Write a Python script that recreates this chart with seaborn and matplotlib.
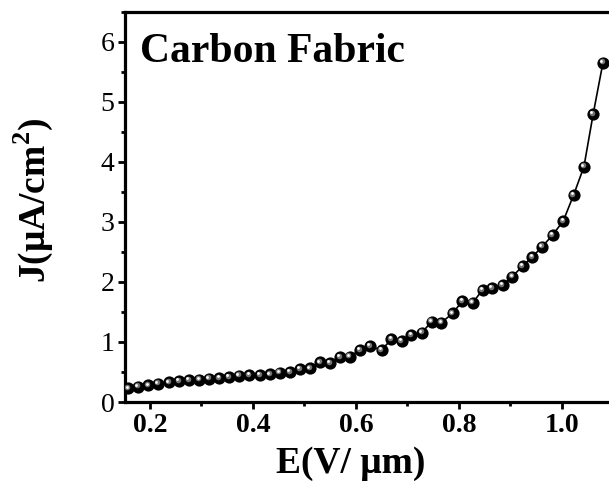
import numpy as np
import pandas as pd
import seaborn as sns
import matplotlib.pyplot as plt
from matplotlib.ticker import MultipleLocator, FormatStrFormatter
from matplotlib.transforms import offset_copy

# field (V/um) and current density (uA/cm2)
E = [0.158, 0.177, 0.197, 0.216, 0.237, 0.257, 0.276, 0.296, 0.315, 0.335,
     0.354, 0.373, 0.393, 0.414, 0.433, 0.452, 0.472, 0.491, 0.511, 0.530,
     0.550, 0.569, 0.588, 0.608, 0.627, 0.650, 0.669, 0.689, 0.708, 0.728,
     0.747, 0.766, 0.788, 0.807, 0.827, 0.846, 0.865, 0.885, 0.904, 0.924,
     0.943, 0.962, 0.982, 1.003, 1.023, 1.043, 1.061, 1.080]
J = [0.228, 0.255, 0.278, 0.305, 0.328, 0.345, 0.362, 0.372, 0.388, 0.400,
     0.417, 0.438, 0.450, 0.450, 0.460, 0.490, 0.495, 0.550, 0.560, 0.660,
     0.645, 0.745, 0.755, 0.870, 0.930, 0.867, 1.045, 1.020, 1.117, 1.155,
     1.338, 1.322, 1.478, 1.683, 1.655, 1.867, 1.895, 1.950, 2.090, 2.267,
     2.420, 2.590, 2.780, 3.020, 3.450, 3.920, 4.800, 5.655]
label = "Carbon Fabric"

df = pd.DataFrame({"E": E, "J": J})

sns.set_theme(style="ticks")
plt.rcParams["font.family"] = ["Liberation Serif", "DejaVu Serif"]
plt.rcParams["mathtext.fontset"] = "custom"
plt.rcParams["mathtext.rm"] = "Liberation Serif"
plt.rcParams["mathtext.bf"] = "Liberation Serif:bold"
for k in ["text.color", "axes.labelcolor", "xtick.color", "ytick.color",
          "axes.edgecolor"]:
    plt.rcParams[k] = "black"

fig = plt.figure(figsize=(6.09, 4.84), dpi=100)
ax = fig.add_axes([0.206, 0.1694, 0.801, 0.806])

sns.lineplot(data=df, x="E", y="J", color="black", lw=1.2, ax=ax,
             marker="o", markersize=8.8, markeredgewidth=0, zorder=3)
# sphere highlight
hl1 = offset_copy(ax.transData, fig=fig, x=-0.9, y=0.9, units="points")
hl2 = offset_copy(ax.transData, fig=fig, x=-1.3, y=1.3, units="points")
ax.plot(E, J, ls="none", marker="o", ms=4.0, mew=0, color="0.45",
        transform=hl1, zorder=4)
ax.plot(E, J, ls="none", marker="o", ms=2.0, mew=0, color="white",
        transform=hl2, zorder=5)

ax.set_xlim(0.1524, 1.1)
ax.set_ylim(0, 6.5)
ax.xaxis.set_major_locator(MultipleLocator(0.2))
ax.xaxis.set_minor_locator(MultipleLocator(0.1))
ax.xaxis.set_major_formatter(FormatStrFormatter("%.1f"))
ax.yaxis.set_major_locator(MultipleLocator(1))
ax.yaxis.set_minor_locator(MultipleLocator(0.5))

for s in ax.spines.values():
    s.set_linewidth(2.3)
    s.set_color("black")
ax.tick_params(which="major", direction="out", length=5, width=2, color="black",
               pad=3)
ax.tick_params(which="minor", direction="out", length=3, width=2, color="black")
ax.tick_params(axis="x", labelsize=20)
ax.tick_params(axis="y", labelsize=20)
for t in ax.get_xticklabels():
    t.set_fontweight("bold")

ax.set_xlabel("E(V/ μm)", fontsize=27, fontweight="bold")
ax.xaxis.set_label_coords(0.462, -0.112)
ax.set_ylabel(r"J(μA/cm$^\mathbf{2}$)", fontsize=27, fontweight="bold")
ax.yaxis.set_label_coords(-0.145, 0.516)
ax.text(0.1806, 5.67, label, fontsize=30, fontweight="bold", ha="left",
        va="baseline")

fig.savefig("out.png", dpi=100)
